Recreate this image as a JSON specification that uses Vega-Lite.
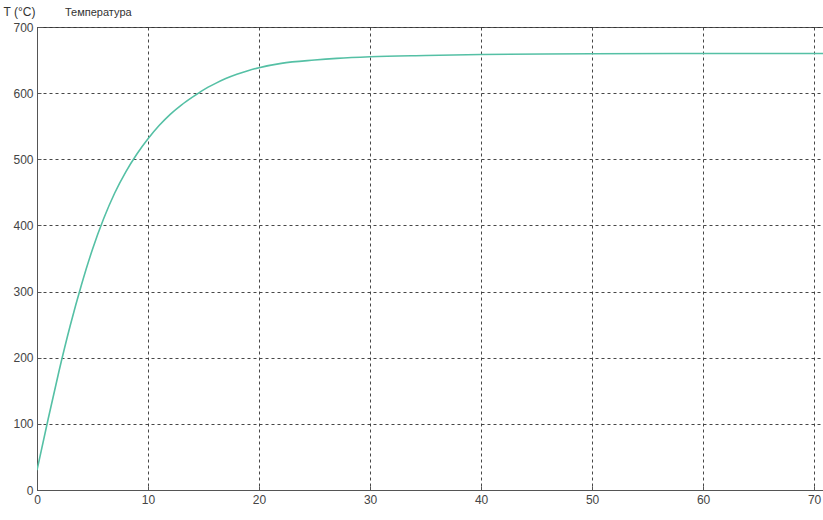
{
  "$schema": "https://vega.github.io/schema/vega-lite/v6.json",
  "width": 786,
  "height": 463,
  "autosize": {"type": "none"},
  "padding": {"left": 37, "top": 27, "right": 0, "bottom": 30},
  "background": "white",
  "title": {"text": "Температура", "anchor": "start", "frame": "group", "dx": 28, "dy": 23, "offset": 10, "font": "Liberation Sans", "fontSize": 11, "fontWeight": "normal", "color": "#333"},
  "config": {
    "view": {"stroke": "#555", "strokeWidth": 1},
    "axis": {"labelFont": "Liberation Sans", "labelFontSize": 12, "labelColor": "#444", "domainColor": "#555", "grid": true, "gridColor": "#333", "gridDash": [3, 3], "gridOpacity": 0.9, "tickColor": "#555", "tickSize": -4}
  },
  "datasets": {
    "temp": [
      {"t": 0, "T": 30},
      {"t": 1, "T": 107},
      {"t": 2, "T": 181},
      {"t": 3, "T": 249},
      {"t": 4, "T": 310},
      {"t": 5, "T": 364},
      {"t": 6, "T": 410},
      {"t": 7, "T": 449},
      {"t": 8, "T": 481},
      {"t": 9, "T": 508},
      {"t": 10, "T": 531},
      {"t": 11, "T": 551},
      {"t": 12, "T": 568},
      {"t": 13, "T": 582},
      {"t": 14, "T": 594},
      {"t": 15, "T": 605},
      {"t": 16, "T": 614},
      {"t": 17, "T": 622},
      {"t": 18, "T": 628.5},
      {"t": 19, "T": 634},
      {"t": 20, "T": 638.5},
      {"t": 22, "T": 645},
      {"t": 25, "T": 650},
      {"t": 27, "T": 652.5},
      {"t": 30, "T": 655},
      {"t": 35, "T": 657},
      {"t": 40, "T": 658.5},
      {"t": 50, "T": 659.5},
      {"t": 60, "T": 660},
      {"t": 70.8, "T": 660}
    ]
  },
  "data": {"name": "temp"},
  "mark": {"type": "line", "color": "#55c0a5", "strokeWidth": 1.6, "clip": true, "interpolate": "monotone"},
  "encoding": {
    "x": {"field": "t", "type": "quantitative", "scale": {"domain": [0, 70.8], "nice": false, "zero": false},
      "axis": {"title": null, "values": [0, 10, 20, 30, 40, 50, 60, 70], "labelPadding": 8, "labelFlush": false}},
    "y": {"field": "T", "type": "quantitative", "scale": {"domain": [0, 700], "nice": false},
      "axis": {"values": [0, 100, 200, 300, 400, 500, 600, 700], "labelPadding": 8, "title": "T (°C)", "titleAngle": 0, "titleX": -34, "titleY": -12, "titleAlign": "left", "titleBaseline": "alphabetic", "titleFont": "Liberation Sans", "titleFontSize": 12, "titleFontWeight": "normal", "titleColor": "#333"}}
  }
}
